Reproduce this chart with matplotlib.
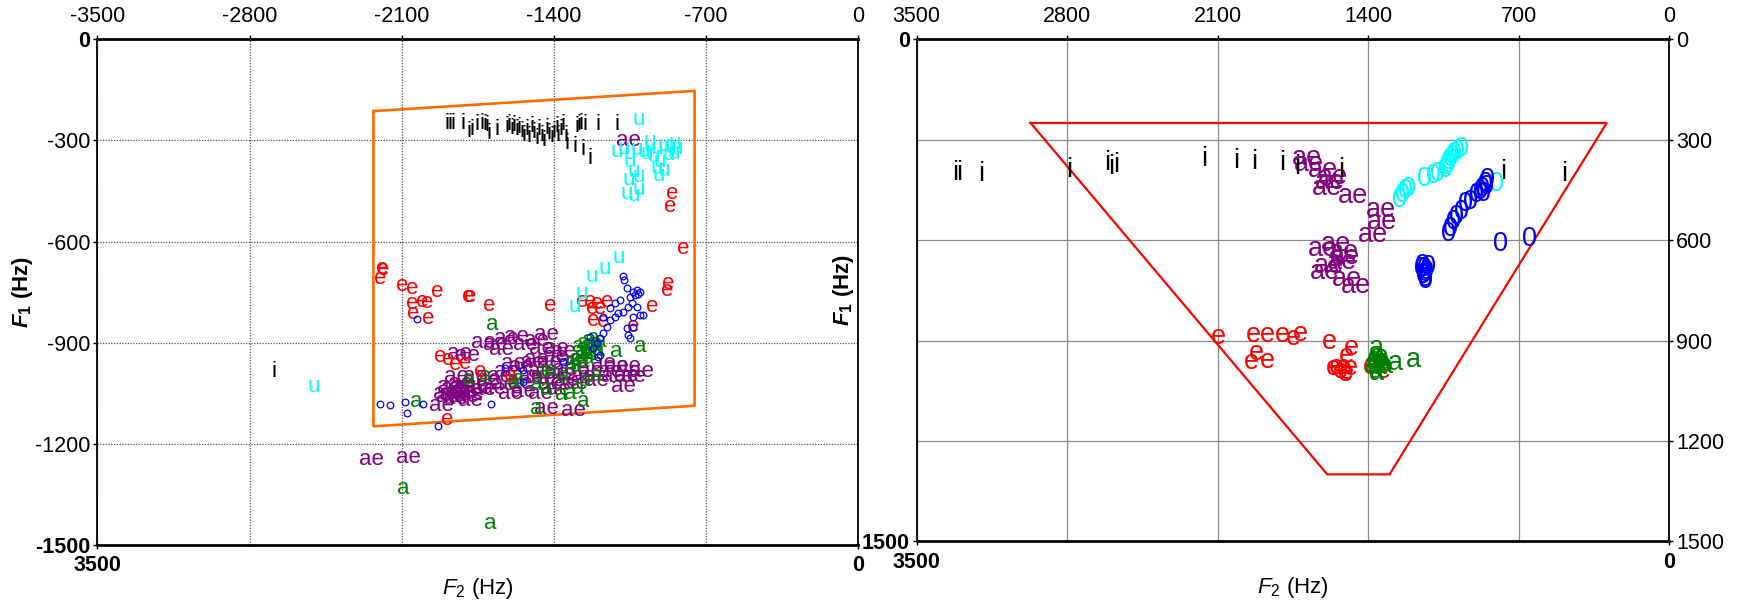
import matplotlib
matplotlib.use("Agg")
import matplotlib.pyplot as plt

plt.rcParams["font.family"] = ["Liberation Sans", "DejaVu Sans"]
plt.rcParams["axes.unicode_minus"] = False
plt.rcParams["mathtext.fontset"] = "custom"
plt.rcParams["mathtext.rm"] = "Liberation Sans"
plt.rcParams["mathtext.it"] = "Liberation Sans:italic"
plt.rcParams["mathtext.bf"] = "Liberation Sans:bold"
plt.rcParams["mathtext.bfit"] = "Liberation Sans:bold:italic"

# ---------------- left panel: speaker A tokens (F2, F1 in Hz, plotted negated) ----------------
left_i_f2 = [1893, 1878, 1863, 1820, 1789, 1778, 1752, 1732, 1717, 1706, 1697, 1660,
             1617, 1605, 1594, 1583, 1571, 1559, 1548, 1538, 1525, 1513, 1502, 1492,
             1479, 1467, 1456, 1446, 1433, 1421, 1410, 1400, 1387, 1380, 1369, 1357,
             1344, 1295, 1285, 1277, 1257, 1341, 1303, 1265, 1234, 1196, 1111, 2689]
left_i_f1 = [250, 250, 250, 250, 274, 269, 254, 251, 254, 257, 279, 269,
             259, 254, 264, 257, 269, 261, 274, 284, 267, 289, 259, 277,
             294, 269, 284, 299, 264, 279, 289, 274, 259, 284, 269, 254,
             284, 259, 254, 249, 254, 308, 319, 326, 353, 254, 254, 984]

left_u_f2 = [1012, 1111, 1081, 1050, 1019, 989, 958, 927, 897, 866, 843, 943, 912,
             927, 897, 920, 1050, 1035, 1058, 1012, 1065, 1035, 1012, 958, 874, 851,
             973, 835, 1104, 1165, 1226, 1272, 1303, 2505]
left_u_f1 = [239, 333, 323, 338, 328, 333, 318, 323, 314, 318, 309, 348, 363,
             383, 388, 403, 363, 393, 417, 407, 457, 462, 447, 304, 343, 338,
             338, 323, 647, 679, 704, 754, 793, 1031]

left_e_f2 = [858, 866, 805, 2192, 2200, 2185, 2100, 2054, 1939, 2054, 2008, 1985,
             2046, 1978, 1794, 1786, 1697, 1415, 1272, 1234, 1203, 1157, 1226, 1188,
             1219, 1173, 950, 881, 874, 1035, 1924, 1886, 1855, 1809, 1740, 1893, 1602]
left_e_f1 = [457, 496, 620, 679, 709, 684, 729, 739, 749, 783, 778, 781,
             813, 828, 763, 763, 791, 791, 778, 778, 783, 778, 798, 798,
             833, 838, 793, 744, 724, 852, 941, 951, 966, 961, 986, 1129, 996]

left_ae_f2 = [1725, 1671, 1617, 1571, 1533, 1479, 1433, 1456, 1387, 1640, 1835, 1798,
              1587, 1548, 1479, 1395, 1326, 1357, 1173, 1111, 1058, 996, 1065, 1035,
              1081, 1127, 1203, 1265, 1341, 1387, 1418, 1449, 1510, 1633, 1679, 1725,
              1778, 1863, 1901, 1916, 1832, 1801, 1855, 1885, 1755, 1840, 1817, 1786,
              1433, 1308, 1617, 1556, 1464, 1295, 1234, 1142, 1500, 1420, 1350, 1300,
              1380, 1460, 1540, 1600, 1650, 1700, 1760, 1880, 1850, 1870, 1820, 1790,
              1058, 2237, 2071]
left_ae_f1 = [900, 904, 887, 882, 904, 892, 877, 917, 917, 920, 932, 937,
              963, 971, 951, 941, 951, 927, 961, 971, 971, 986, 996, 1001,
              1030, 1001, 1011, 1001, 1011, 991, 1020, 1006, 1001, 1025, 1035, 1040,
              1050, 1035, 1050, 1085, 1020, 1060, 1065, 1060, 1030, 1045, 1030, 1070,
              1095, 1100, 986, 1020, 986, 976, 986, 986, 960, 960, 980, 1020,
              1040, 1050, 1045, 1050, 1000, 1010, 1000, 1030, 1000, 1055, 1048, 1040,
              299, 1245, 1239]

left_a_f2 = [1682, 1114, 1004, 1288, 1265, 1242, 1219, 1203, 1234, 1257, 1280, 1303,
             1226, 1196, 1265, 1295, 1326, 1242, 1211, 1188, 1250, 1273, 1230, 1794,
             1717, 2031, 1587, 1564, 1479, 1449, 1410, 1433, 1364, 1326, 1265, 1288,
             1357, 1203, 1479, 1257, 2092, 1694]
left_a_f1 = [847, 927, 910, 912, 902, 892, 887, 902, 917, 932, 941, 951,
             932, 922, 956, 971, 961, 946, 912, 897, 922, 927, 905, 1009,
             999, 1075, 1016, 1009, 1025, 986, 981, 1040, 1055, 1050, 1075, 1035,
             1001, 996, 1095, 1011, 1331, 1436]

left_o_f2 = [2200, 2154, 2085, 2077, 2000, 2031, 1932, 1691, 1625, 1541, 1541, 1357,
             1081, 1078, 1065, 1050, 1035, 1019, 1027, 1012, 1004, 1042, 1058, 1081,
             1104, 1119, 1142, 1157, 1173, 1188, 1203, 1219, 1234, 1188, 1196, 1019,
             1004, 989, 1035, 1065, 1058, 1050, 1035, 1119, 1096, 1142, 1173]
left_o_f1 = [1082, 1085, 1075, 1109, 1082, 830, 1147, 1082, 976, 981, 1016, 956,
             702, 714, 739, 763, 749, 744, 758, 754, 749, 783, 793, 808,
             813, 823, 833, 852, 872, 887, 902, 917, 882, 936, 941, 793,
             818, 818, 823, 857, 877, 887, 852, 783, 773, 798, 823]

left_box_f2 = [2230, 753, 753, 2230, 2230]
left_box_f1 = [213, 153, 1087, 1148, 213]

# ---------------- right panel: reference tokens (F2, F1 in Hz) ----------------
right_i_f2 = [3322, 3304, 3200, 2789, 2613, 2596, 2574, 2164, 2014, 1928, 1799,
              1730, 1527, 770, 486]
right_i_f1 = [399, 399, 402, 392, 370, 382, 377, 357, 364, 367, 370,
              382, 392, 397, 402]

right_ae_f2 = [1682, 1675, 1610, 1562, 1576, 1593, 1472, 1338, 1335, 1378, 1550,
               1610, 1510, 1507, 1520, 1584, 1601, 1498, 1455]
right_ae_f1 = [354, 372, 392, 412, 427, 445, 469, 509, 546, 586, 611,
               626, 636, 651, 666, 676, 696, 716, 737]

right_e_f2 = [2097, 1934, 1869, 1797, 1745, 1717, 1918, 1941, 1869, 1580, 1476,
              1499, 1546, 1515, 1484, 1499, 1562, 1329, 1391, 1530, 1505]
right_e_f1 = [889, 884, 884, 884, 893, 880, 938, 963, 960, 904, 923,
              946, 978, 978, 983, 993, 983, 992, 978, 990, 1000]

right_a_f2 = [1360, 1352, 1370, 1340, 1330, 1365, 1345, 1375, 1355, 1335, 1360,
              1320, 1385, 1275, 1190, 1360]
right_a_f1 = [923, 963, 955, 950, 970, 975, 980, 965, 945, 960, 990,
              975, 972, 968, 958, 998]

right_u_f2 = [1252, 1240, 1226, 1214, 1137, 1094, 1077, 1042, 1033, 1025, 1016,
              999, 982, 965, 1025, 1008, 801]
right_u_f1 = [479, 466, 453, 446, 417, 407, 402, 392, 382, 367, 357,
              342, 337, 327, 377, 352, 432]

right_o_f2 = [1028, 1016, 1004, 990, 965, 947, 922, 896, 879, 870, 856, 844, 849,
              861, 1145, 1137, 1128, 1140, 1132, 1150, 1120, 1135, 1135, 784, 650]
right_o_f1 = [581, 566, 546, 531, 516, 491, 486, 466, 456, 446, 432, 420, 441,
              461, 676, 686, 696, 706, 716, 686, 680, 700, 722, 611, 596]

right_box_f2 = [2970, 290, 1300, 1590, 2970]
right_box_f1 = [250, 250, 1300, 1300, 250]

left_top_ticks = [-3500, -2800, -2100, -1400, -700, 0]
left_y_ticks = [0, -300, -600, -900, -1200, -1500]
right_top_ticks = [3500, 2800, 2100, 1400, 700, 0]
right_y_ticks = [0, 300, 600, 900, 1200, 1500]

PURPLE = "#800080"
GREEN = "#008000"
CYAN = "#00ffff"
BLUE = "#0000ff"
RED = "#ff0000"
ORANGE = "#ff6a00"

TICK_FS = 15.5
LABEL_FS = 16
LEFT_FS = 16
RIGHT_FS = 19.5
F2_LABEL = r"$\mathit{F}_{\mathrm{2}}$ (Hz)"
F1_LABEL = r"$\mathbfit{F}_{\mathbf{1}}$ (Hz)"


def frame(ax):
    for side in ("top", "bottom"):
        ax.spines[side].set_linewidth(2.0)
    for side in ("left", "right"):
        ax.spines[side].set_linewidth(1.3)


def words(ax, f2, f1, word, color, size, sign, z):
    for x, y in zip(f2, f1):
        ax.text(sign * x, sign * y, word, color=color, fontsize=size,
                ha="center", va="center", zorder=z, clip_on=True)


fig = plt.figure(figsize=(17.41, 6.05), dpi=100)

# ---------- left panel ----------
ax1 = fig.add_axes([0.05589, 0.09917, 0.43711, 0.83587])
ax1.set_xlim(-3500, 0)
ax1.set_ylim(-1500, 0)
ax1.set_axisbelow(True)
frame(ax1)
ax1.xaxis.tick_top()
ax1.set_xticks(left_top_ticks, labels=[str(v) for v in left_top_ticks])
ax1.tick_params(axis="x", direction="out", length=3, width=1, pad=5.5,
                labelsize=TICK_FS)
ax1.set_yticks(left_y_ticks, labels=[str(v) for v in left_y_ticks])
ax1.tick_params(axis="y", direction="out", length=3, width=1, pad=2,
                labelsize=TICK_FS)
ylabs = ax1.get_yticklabels()
ylabs[0].set_fontweight("bold")
ylabs[-1].set_fontweight("bold")
ax1.grid(True, linestyle=(0, (1, 1.2)), color="#505050", linewidth=0.9)

sb1 = ax1.secondary_xaxis("bottom")
sb1.set_xticks([-3500, 0], labels=["3500", "0"])
sb1.tick_params(length=3, width=1, pad=4.5, labelsize=TICK_FS)
for t in sb1.get_xticklabels():
    t.set_fontweight("bold")
sb1.spines["bottom"].set_visible(False)

ax1.xaxis.set_label_position("bottom")
ax1.set_xlabel(F2_LABEL, fontsize=LABEL_FS)
ax1.xaxis.set_label_coords(0.5, -0.062)
ax1.set_ylabel(F1_LABEL, fontsize=LABEL_FS, fontweight="bold")
ax1.yaxis.set_label_coords(-0.082, 0.5)

ax1.plot([-v for v in left_box_f2], [-v for v in left_box_f1],
         color=ORANGE, lw=1.9, zorder=2)
words(ax1, left_ae_f2, left_ae_f1, "ae", PURPLE, LEFT_FS, -1, 3)
words(ax1, left_a_f2, left_a_f1, "a", GREEN, LEFT_FS, -1, 4)
words(ax1, left_e_f2, left_e_f1, "e", RED, LEFT_FS, -1, 5)
words(ax1, left_i_f2, left_i_f1, "i", "black", LEFT_FS, -1, 5)
words(ax1, left_u_f2, left_u_f1, "u", CYAN, LEFT_FS, -1, 5)
ax1.plot([-v for v in left_o_f2], [-v for v in left_o_f1], linestyle="none",
         marker="o", ms=4.8, mfc="none", mec=BLUE, mew=0.9, zorder=6)

# ---------- right panel ----------
ax2 = fig.add_axes([0.52654, 0.10529, 0.43211, 0.82975])
ax2.set_xlim(3500, 0)
ax2.set_ylim(1500, 0)
ax2.set_axisbelow(True)
frame(ax2)
ax2.xaxis.tick_top()
ax2.set_xticks(right_top_ticks, labels=[str(v) for v in right_top_ticks])
ax2.tick_params(axis="x", direction="out", length=3, width=1, pad=5.5,
                labelsize=TICK_FS)
ax2.yaxis.tick_right()
ax2.set_yticks(right_y_ticks, labels=[str(v) for v in right_y_ticks])
ax2.tick_params(axis="y", direction="out", length=3, width=1, pad=2,
                labelsize=TICK_FS)
ax2.grid(True, linestyle="-", color="#8a8a8a", linewidth=0.9)

sb2 = ax2.secondary_xaxis("bottom")
sb2.set_xticks([3500, 0], labels=["3500", "0"])
sb2.tick_params(length=3, width=1, pad=4.5, labelsize=TICK_FS)
for t in sb2.get_xticklabels():
    t.set_fontweight("bold")
sb2.spines["bottom"].set_visible(False)

sl2 = ax2.secondary_yaxis("left")
sl2.set_yticks([0, 1500], labels=["0", "1500"])
sl2.tick_params(length=3, width=1, pad=2, labelsize=TICK_FS)
for t in sl2.get_yticklabels():
    t.set_fontweight("bold")
sl2.spines["left"].set_visible(False)

ax2.xaxis.set_label_position("bottom")
ax2.set_xlabel(F2_LABEL, fontsize=LABEL_FS)
ax2.xaxis.set_label_coords(0.5, -0.068)
ax2.yaxis.set_label_position("left")
ax2.set_ylabel(F1_LABEL, fontsize=LABEL_FS, fontweight="bold")
ax2.yaxis.set_label_coords(-0.081, 0.5)

ax2.plot(right_box_f2, right_box_f1, color=RED, lw=1.6, zorder=2)
words(ax2, right_ae_f2, right_ae_f1, "ae", PURPLE, RIGHT_FS, 1, 3)
words(ax2, right_i_f2, right_i_f1, "i", "black", RIGHT_FS, 1, 4)
words(ax2, right_e_f2, right_e_f1, "e", RED, RIGHT_FS, 1, 4)
words(ax2, right_a_f2, right_a_f1, "a", GREEN, RIGHT_FS, 1, 5)
words(ax2, right_u_f2, right_u_f1, "0", CYAN, RIGHT_FS, 1, 5)
words(ax2, right_o_f2, right_o_f1, "0", BLUE, RIGHT_FS, 1, 6)

fig.savefig("out.png", dpi=100)
